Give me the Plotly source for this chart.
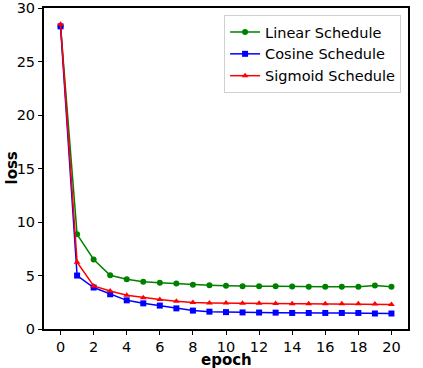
import plotly.graph_objects as go

FONT = 'DejaVu Sans, Arial, sans-serif'

epochs = list(range(21))
linear = [28.3, 8.85, 6.5, 5.03, 4.65, 4.42, 4.33, 4.25, 4.13, 4.09, 4.04,
          4.0, 4.0, 4.0, 3.97, 3.96, 3.96, 3.96, 3.96, 4.06, 3.96]
cosine = [28.3, 5.0, 3.88, 3.25, 2.68, 2.4, 2.19, 1.93, 1.72, 1.62, 1.58,
          1.55, 1.54, 1.53, 1.5, 1.5, 1.5, 1.5, 1.5, 1.45, 1.45]
sigmoid = [28.5, 6.25, 4.03, 3.55, 3.15, 2.93, 2.75, 2.6, 2.47, 2.43, 2.42,
           2.4, 2.4, 2.38, 2.37, 2.37, 2.37, 2.36, 2.35, 2.33, 2.3]

series = [
    ('Linear Schedule', linear, 'green', 'circle'),
    ('Cosine Schedule', cosine, 'blue', 'square'),
    ('Sigmoid Schedule', sigmoid, 'red', 'triangle-up'),
]

fig = go.Figure()
for name, ys, col, sym in series:
    fig.add_trace(go.Scatter(x=epochs, y=ys, name=name, mode='lines+markers',
                             line=dict(color=col, width=1.5),
                             marker=dict(symbol=sym, size=6, color=col)))

fig.update_layout(
    width=423, height=368,
    font=dict(family=FONT, size=14.5, color='black'),
    paper_bgcolor='white', plot_bgcolor='white',
    margin=dict(l=44, r=15, t=8, b=39, autoexpand=False),
    legend=dict(x=0.981, y=0.978, xanchor='right', yanchor='top',
                bgcolor='rgba(255,255,255,0.8)', bordercolor='#d0d0d0', borderwidth=1,
                font=dict(size=14.5), tracegroupgap=0, itemwidth=30),
    annotations=[
        dict(text='<b>epoch</b>', x=0.5, y=0, xref='paper', yref='paper',
             xanchor='center', yanchor='top', yshift=-20, showarrow=False,
             font=dict(size=15)),
        dict(text='<b>loss</b>', x=0, y=0.5, xref='paper', yref='paper',
             xanchor='center', yanchor='middle', xshift=-33, textangle=-90,
             showarrow=False, font=dict(size=15)),
    ],
)
fig.update_xaxes(range=[-1, 21], tickvals=list(range(0, 21, 2)), automargin=False,
                 showgrid=False, zeroline=False, showline=True, mirror=True,
                 linecolor='black', linewidth=2, ticks='outside', ticklen=4,
                 tickcolor='black')
fig.update_yaxes(range=[0, 30.02], tickvals=list(range(0, 31, 5)), automargin=False,
                 showgrid=False, zeroline=False, showline=True, mirror=True,
                 linecolor='black', linewidth=2, ticks='outside', ticklen=4,
                 tickcolor='black', ticklabeloverflow='allow')

fig.write_html('out.html', config={'displayModeBar': False},
               post_script="document.body.style.margin='0';")
